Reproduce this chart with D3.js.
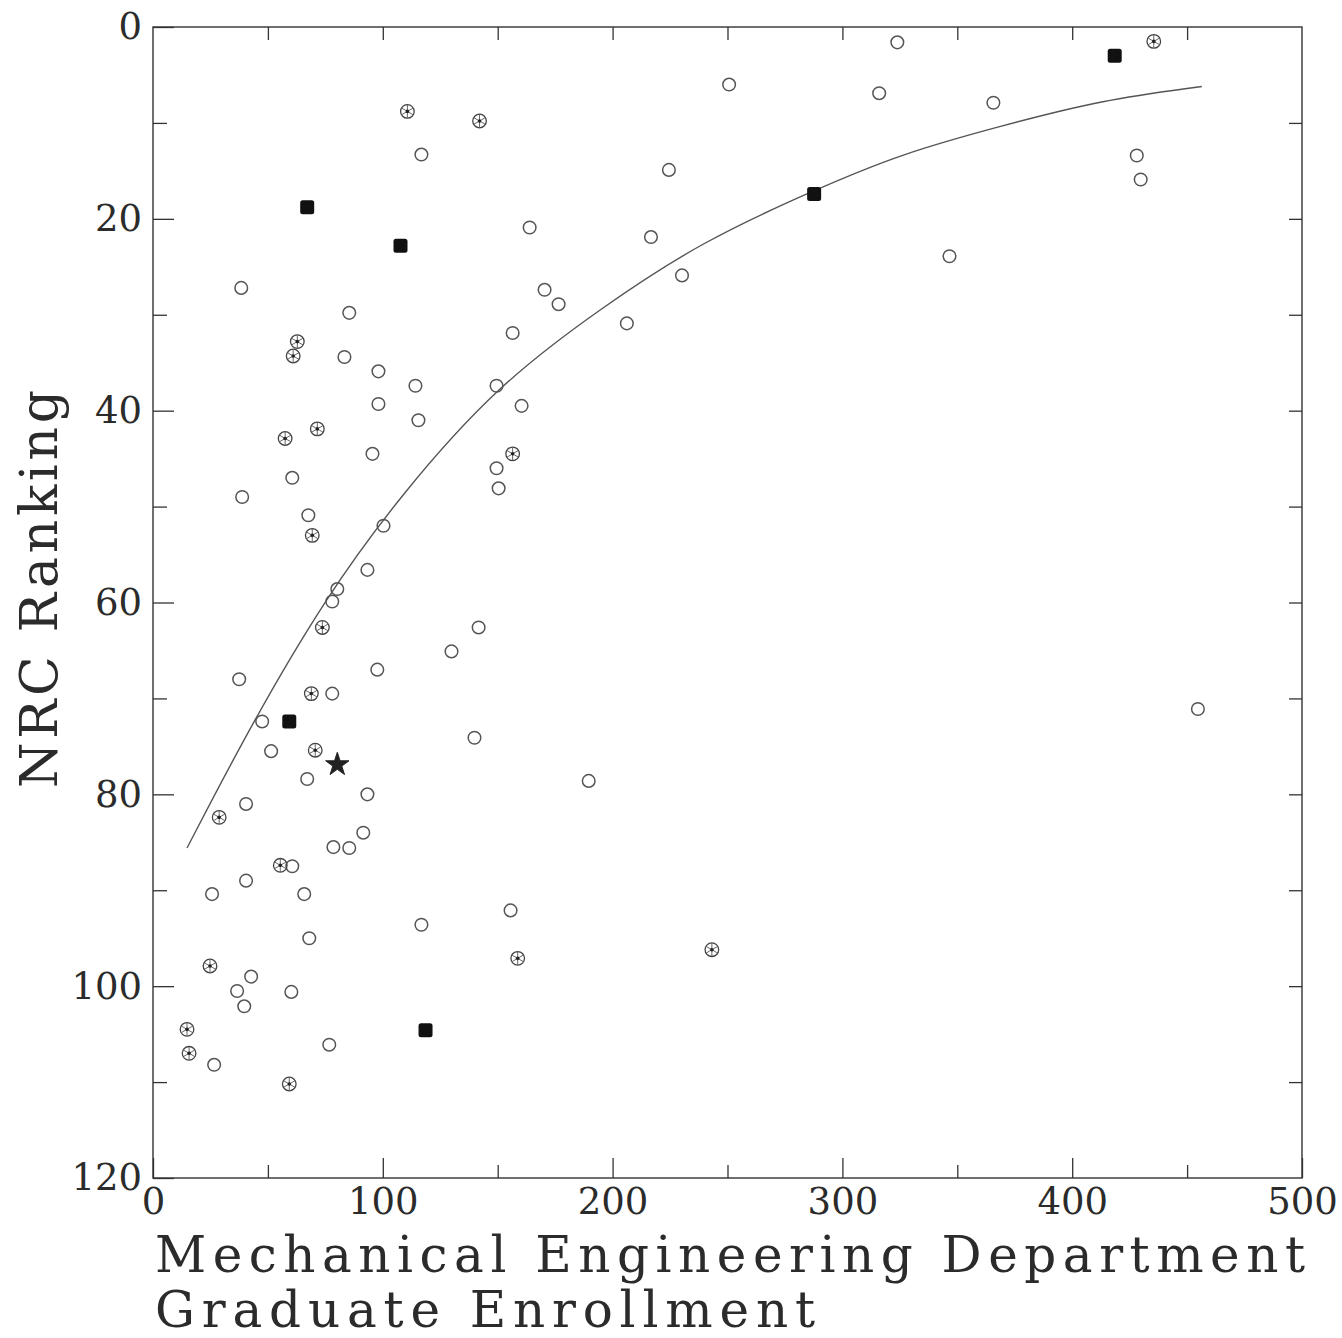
<!DOCTYPE html>
<html>
<head>
<meta charset="utf-8">
<script src="https://cdn.jsdelivr.net/npm/d3@7"></script>
<style>
  body { margin: 0; background: #fff; }
  text { font-family: "DejaVu Serif", serif; fill: #2b2b2b; }
</style>
</head>
<body>
<div id="chart"></div>
<script>
// Graduate enrollment (x) vs NRC ranking (y)

// open circles
var openX = [38.4, 85.4, 83.3, 98.1, 114.2, 98.1, 115.5, 95.5, 60.6, 38.8, 67.6, 100.3, 93.3, 80.2, 78.0, 37.5,
  97.6, 78.0, 47.5, 51.4, 67.1, 93.3, 40.5, 91.5, 78.5, 85.4, 60.6, 40.5, 25.7, 65.8, 116.8, 68.0, 42.7, 36.6,
  60.2, 39.7, 76.7, 26.6, 116.8, 224.5, 163.9, 216.7, 230.2, 170.4, 176.5, 206.2, 156.5, 149.5, 160.4, 149.5,
  150.4, 141.7, 129.9, 139.9, 189.6, 155.6, 250.7, 323.9, 316.0, 365.7, 346.6, 428.1, 429.8, 454.7];
var openY = [27.2, 29.8, 34.4, 35.9, 37.4, 39.3, 41.0, 44.5, 47.0, 49.0, 50.9, 52.0, 56.6, 58.6, 59.9, 68.0,
  67.0, 69.5, 72.4, 75.5, 78.4, 80.0, 81.0, 84.0, 85.5, 85.6, 87.5, 89.0, 90.4, 90.4, 93.6, 95.0, 99.0, 100.5,
  100.6, 102.1, 106.1, 108.2, 13.3, 14.9, 20.9, 21.9, 25.9, 27.4, 28.9, 30.9, 31.9, 37.4, 39.5, 46.0,
  48.1, 62.6, 65.1, 74.1, 78.6, 92.1, 6.0, 1.6, 6.9, 7.9, 23.9, 13.4, 15.9, 71.1];

// circles with an asterisk inside
var asteriskX = [110.7, 142.1, 62.8, 61.0, 71.5, 57.5, 156.5, 69.3, 73.7, 68.9, 70.6, 28.8, 55.4, 24.8, 158.7,
  243.2, 14.8, 15.7, 59.3, 435.5];
var asteriskY = [8.8, 9.8, 32.8, 34.3, 41.9, 42.9, 44.5, 53.0, 62.6, 69.5, 75.4, 82.4, 87.4, 97.9, 97.1,
  96.2, 104.5, 107.0, 110.2, 1.5];

// filled squares
var squareX = [67.1, 107.7, 59.3, 118.6, 287.7, 418.5];
var squareY = [18.8, 22.8, 72.4, 104.6, 17.4, 3.0];

// the star
var starX = [80.2];
var starY = [76.9];

// fitted curve, read at a few places along it
var fitX = [14.8, 42.3, 75.0, 107.7, 149.5, 194.9, 238.4, 287.7, 325.6, 369.2, 412.8, 456.4];
var fitY = [85.6, 72.9, 59.5, 48.8, 37.4, 29.3, 22.4, 17.0, 13.2, 10.3, 7.6, 6.2];

// ticks
var xTicks = [0, 100, 200, 300, 400, 500];
var xMinor = [50, 150, 250, 350, 450];
var yTicks = [0, 20, 40, 60, 80, 100, 120];
var yMinor = [10, 30, 50, 70, 90, 110];

var W = 1342, H = 1338;
var margin = { top: 27, right: 40, bottom: 160, left: 153 };
var innerW = W - margin.left - margin.right,
    innerH = H - margin.top - margin.bottom;

var svg = d3.select("#chart").append("svg")
  .attr("width", W)
  .attr("height", H);

var g = svg.append("g")
  .attr("transform", "translate(" + margin.left + "," + margin.top + ")");

var x = d3.scaleLinear().domain([0, 500]).range([0, innerW]);
var y = d3.scaleLinear().domain([0, 120]).range([0, innerH]);

function styleAxis(sel) {
  sel.select(".domain").remove();
  sel.selectAll(".tick line").attr("stroke", "#333").attr("stroke-width", 1.3);
  sel.selectAll(".tick text").attr("font-size", 37).attr("fill", "#2b2b2b")
    .attr("font-family", "DejaVu Serif, serif");
}

// bottom axis, inward ticks
g.append("g")
  .attr("transform", "translate(0," + innerH + ")")
  .call(d3.axisBottom(x).tickValues(xTicks).tickSizeInner(-20).tickSizeOuter(0).tickPadding(10))
  .call(styleAxis);
g.append("g")
  .attr("transform", "translate(0," + innerH + ")")
  .call(d3.axisBottom(x).tickValues(xMinor).tickSize(-13).tickFormat(""))
  .call(styleAxis);

// top axis
g.append("g")
  .call(d3.axisTop(x).tickValues(xMinor.concat([100, 200, 300, 400])).tickSize(-13).tickFormat(""))
  .call(styleAxis);

// left axis
g.append("g")
  .call(d3.axisLeft(y).tickValues(yTicks).tickSizeInner(-21).tickSizeOuter(0).tickPadding(11))
  .call(styleAxis);
g.append("g")
  .call(d3.axisLeft(y).tickValues(yMinor).tickSize(-14).tickFormat(""))
  .call(styleAxis);

// right axis
g.append("g")
  .attr("transform", "translate(" + innerW + ",0)")
  .call(d3.axisRight(y).tickValues(yMinor.concat([20, 40, 60, 80, 100])).tickSize(-13).tickFormat(""))
  .call(styleAxis);

// frame
g.append("rect")
  .attr("width", innerW)
  .attr("height", innerH)
  .attr("fill", "none")
  .attr("stroke", "#333")
  .attr("stroke-width", 1.4);

// fitted curve
var line = d3.line()
  .x(function (d, i) { return x(fitX[i]); })
  .y(function (d, i) { return y(fitY[i]); })
  .curve(d3.curveBasis);
g.append("path")
  .datum(fitX)
  .attr("d", line)
  .attr("fill", "none")
  .attr("stroke", "#555")
  .attr("stroke-width", 1.4);

// open circles
g.append("g").selectAll("circle")
  .data(d3.range(openX.length))
  .join("circle")
  .attr("cx", function (i) { return x(openX[i]); })
  .attr("cy", function (i) { return y(openY[i]); })
  .attr("r", 6.3)
  .attr("fill", "none")
  .attr("stroke", "#555")
  .attr("stroke-width", 1.5);

// circles with asterisk
var ast = g.append("g").selectAll("g")
  .data(d3.range(asteriskX.length))
  .join("g")
  .attr("transform", function (i) { return "translate(" + x(asteriskX[i]) + "," + y(asteriskY[i]) + ")"; });
ast.append("circle")
  .attr("r", 6.8)
  .attr("fill", "none")
  .attr("stroke", "#444")
  .attr("stroke-width", 1.3);
ast.append("path")
  .attr("d", "M0,-6.5V6.5M-5.6,-3.25L5.6,3.25M-5.6,3.25L5.6,-3.25")
  .attr("stroke", "#555")
  .attr("stroke-width", 0.9);
ast.append("circle")
  .attr("r", 1.8)
  .attr("fill", "#222");

// filled squares
g.append("g").selectAll("rect")
  .data(d3.range(squareX.length))
  .join("rect")
  .attr("x", function (i) { return x(squareX[i]) - 7; })
  .attr("y", function (i) { return y(squareY[i]) - 7; })
  .attr("width", 14)
  .attr("height", 14)
  .attr("rx", 2.5)
  .attr("fill", "#111");

// star
g.append("g").selectAll("path")
  .data(d3.range(starX.length))
  .join("path")
  .attr("transform", function (i) { return "translate(" + x(starX[i]) + "," + y(starY[i]) + ")"; })
  .attr("d", d3.symbol().type(d3.symbolStar).size(170))
  .attr("fill", "#222")
  .attr("stroke", "#222")
  .attr("stroke-width", 1);

// axis titles
svg.append("text")
  .attr("x", 155)
  .attr("y", 1272)
  .attr("font-size", 50)
  .attr("textLength", 1150)
  .text("Mechanical Engineering Department");
svg.append("text")
  .attr("x", 155)
  .attr("y", 1327)
  .attr("font-size", 50)
  .attr("textLength", 660)
  .text("Graduate Enrollment");
svg.append("text")
  .attr("transform", "translate(57,788) rotate(-90)")
  .attr("font-size", 52)
  .attr("textLength", 398)
  .text("NRC Ranking");
</script>
</body>
</html>
